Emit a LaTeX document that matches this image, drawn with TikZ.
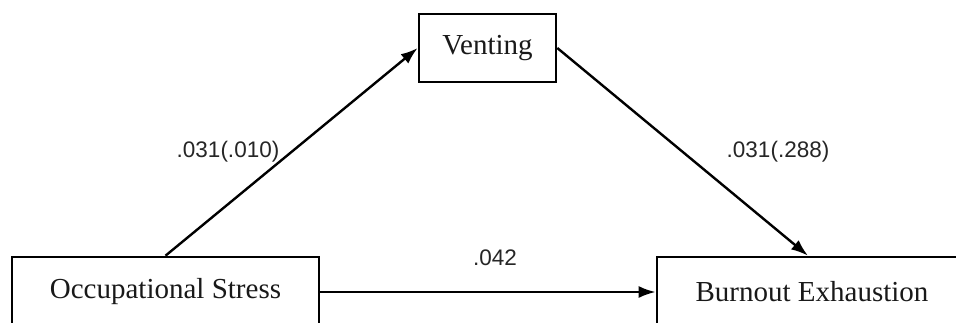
\documentclass[tikz,border=0pt]{standalone}
\usepackage{fontspec}
\setmainfont{Liberation Serif}
\newfontfamily\labelfont{Liberation Sans}
\usetikzlibrary{arrows.meta}
\tikzset{
  box/.style={draw=black, line width=2.6pt, fill=white, inner sep=0pt, font=\fontsize{29}{34}\selectfont, text=black!90},
  link/.style={line width=2.4pt, -{Latex[length=17pt,width=12pt]}},
  coef/.style={font=\labelfont\fontsize{22.5}{26}\selectfont, text=black!85, inner sep=0pt}
}
\begin{document}
\begin{tikzpicture}[x=1pt,y=-1pt]
\useasboundingbox (0,0) rectangle (956,322);
\fill[white] (0,0) rectangle (956,322);
\clip (0,0) rectangle (956,322);
\node[box, minimum width=137pt, minimum height=68pt] (vent) at (487.5,48) {Venting};
\node[box, minimum width=307pt, minimum height=70pt] (occ) at (165.5,292) {Occupational Stress};
\node[box, minimum width=310pt, minimum height=70pt] (burn) at (812,292) {Burnout Exhaustion};
\draw[link] (occ.north) -- (vent.west);
\draw[link] (vent.east) -- ([xshift=-4pt]burn.north);
\draw[link] (occ.east) -- (burn.west);
\node[coef] (l1) at (228,152) {.031(.010)};
\node[coef] (l2) at (778,152) {.031(.288)};
\node[coef] (l3) at (495,258) {.042};
\end{tikzpicture}
\end{document}
